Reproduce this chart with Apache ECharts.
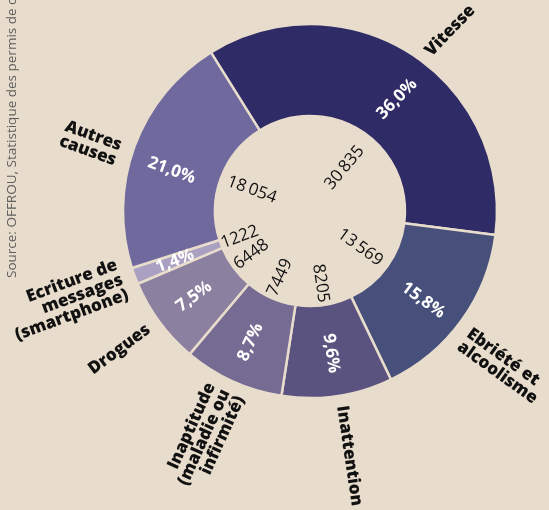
<!DOCTYPE html>
<html>
<head>
<meta charset="utf-8">
<script src="https://cdn.jsdelivr.net/npm/echarts@6/dist/echarts.min.js"></script>
<style>
html,body{margin:0;padding:0;background:#e8dccc;}
#c{width:549px;height:510px;}
</style>
</head>
<body>
<div id="c"></div>
<script>
var categories = ['Vitesse', 'Ebriété et\nalcoolisme', 'Inattention', 'Inaptitude\n(maladie ou\ninfirmité)', 'Drogues', 'Ecriture de\nmessages\n(smartphone)', 'Autres\ncauses'];
var values = [30835, 13569, 8205, 7449, 6448, 1222, 18054];
var percentLabels = ['36,0%', '15,8%', '9,6%', '8,7%', '7,5%', '1,4%', '21,0%'];
var colors = ['#2f2b66', '#46507a', '#5b537f', '#756b93', '#8c80a0', '#aaa0c2', '#6f699d'];
var sourceText = 'Source: OFFROU, Statistique des permis de conduire';

function fmt(v) {
  var s = String(v);
  if (s.length >= 5) return s.slice(0, s.length - 3) + '\u2009' + s.slice(s.length - 3);
  return s;
}

var center = [310, 211];
var startAngle = 122;
var bg = '#e8dccc';
var font = '"Open Sans", "Noto Sans", sans-serif';

// label fine placement (style only): sideways nudges of labels, in px of padding
var nameNudge = [24, 30, 0, 0, 0, 0, 22];
var nameRotate = [46, null, null, null, null, null, null];
var pctNudge = [26, 12, 0, 0, 0, 0, 19];
var pctRotate = [45, null, null, null, null, null, null];
var valNudge = [[13, 12, 0, 0], null, null, null, null, null, null];
var valRotate = [50, null, null, null, null, null, null];

// which inner ring each value label sits on (0: closer to centre, 1: mid, 2: outer)
var valueRing = [0, 0, 1, 1, 1, 2, 0];
var valueRadii = [[35, 83], [45, 95], [49, 95]];

function nudgeLabel(text, px, rot) {
  var l = {};
  if (rot != null) l.rotate = rot;
  if (px) {
    if (text.indexOf('\n') >= 0) {
      l.formatter = '{g| }\n{b}';
      l.rich = { g: { lineHeight: px, fontSize: 2 } };
    } else {
      l.formatter = '{s|{b}}';
      l.rich = { s: { padding: [px, 0, 0, 0] } };
    }
  }
  return l;
}

var ringData = values.map(function (v, i) {
  return { name: categories[i], value: v, itemStyle: { color: colors[i] },
           label: nudgeLabel(categories[i], nameNudge[i], nameRotate[i]) };
});
var pctData = values.map(function (v, i) {
  return { name: percentLabels[i], value: v,
           label: nudgeLabel(percentLabels[i], pctNudge[i], pctRotate[i]) };
});

function valueSeries(ring) {
  return {
    type: 'pie',
    center: center,
    radius: valueRadii[ring],
    startAngle: startAngle,
    avoidLabelOverlap: false,
    labelLayout: { hideOverlap: false },
    silent: true,
    itemStyle: { color: 'rgba(0,0,0,0)' },
    label: {
      show: true,
      position: 'inside',
      rotate: 'radial',
      color: '#111',
      fontFamily: font,
      fontWeight: 'normal',
      fontSize: 17
    },
    labelLine: { show: false },
    data: values.map(function (v, i) {
      var d = { name: fmt(v), value: v };
      if (valueRing[i] !== ring) {
        d.label = { show: false };
      } else {
        var l = {};
        if (valRotate[i] != null) l.rotate = valRotate[i];
        if (valNudge[i]) { l.formatter = '{s|{b}}'; l.rich = { s: { padding: valNudge[i] } }; }
        d.label = l;
      }
      return d;
    })
  };
}

var chart = echarts.init(document.getElementById('c'), null, { renderer: 'canvas' });
chart.setOption({
  backgroundColor: bg,
  animation: false,
  graphic: [{
    type: 'text',
    x: 12,
    y: 278,
    rotation: Math.PI / 2,
    style: {
      text: sourceText,
      fill: '#5e5e5e',
      font: '13.5px ' + font,
      align: 'left',
      verticalAlign: 'middle'
    }
  }],
  series: [
    {
      type: 'pie',
      center: center,
      radius: [95, 187],
      startAngle: startAngle,
      avoidLabelOverlap: false,
      labelLayout: { hideOverlap: false },
      silent: true,
      itemStyle: { borderColor: bg, borderWidth: 2.5 },
      label: {
        show: true,
        position: 'outside',
        rotate: 'radial',
        color: '#111',
        fontFamily: font,
        fontWeight: 800,
        fontSize: 17,
        lineHeight: 16,
        distanceToLabelLine: 3
      },
      labelLine: { show: false, length: 10, length2: 0 },
      data: ringData
    },
    {
      type: 'pie',
      center: center,
      radius: [95, 187],
      startAngle: startAngle,
      avoidLabelOverlap: false,
      labelLayout: { hideOverlap: false },
      silent: true,
      itemStyle: { color: 'rgba(0,0,0,0)' },
      label: {
        show: true,
        position: 'inside',
        rotate: 'radial',
        color: '#fff',
        fontFamily: font,
        fontWeight: 'bold',
        fontSize: 17
      },
      labelLine: { show: false },
      data: pctData
    },
    valueSeries(0),
    valueSeries(1),
    valueSeries(2)
  ]
});
</script>
</body>
</html>
